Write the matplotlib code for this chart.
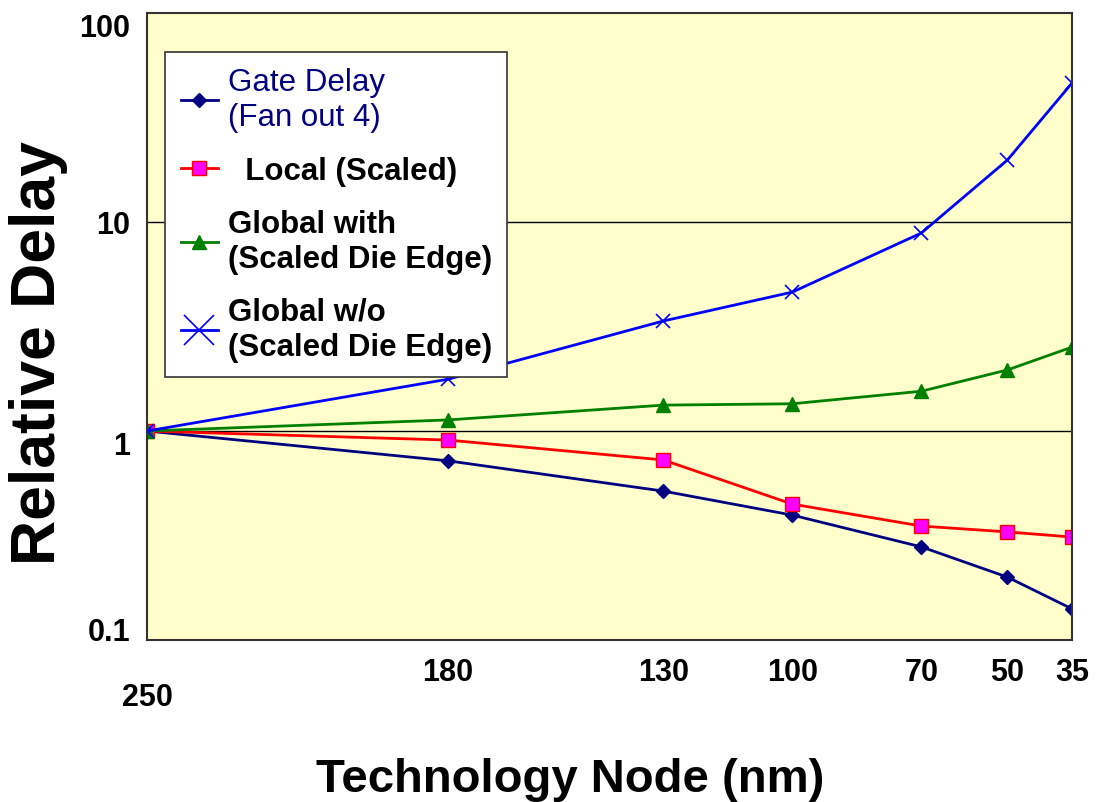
import numpy as np
import matplotlib
matplotlib.use("Agg")
import matplotlib.pyplot as plt

plt.rcParams['font.family'] = ['Liberation Sans', 'DejaVu Sans']

# datos
nodes = ["250", "180", "130", "100", "70", "50", "35"]
x_pos = [0, 7, 12, 15, 18, 20, 21.5]   # posicion en el eje (escala del grafico original)
gate = [1.0, 0.72, 0.516, 0.396, 0.279, 0.20, 0.141]
local = [1.0, 0.905, 0.727, 0.447, 0.351, 0.329, 0.311]
glob_with = [1.0, 1.13, 1.33, 1.35, 1.55, 1.96, 2.52]
glob_wo = [1.0, 1.77, 3.36, 4.62, 8.86, 19.8, 46.2]

fig = plt.figure(figsize=(10.98, 8.03), dpi=100)
ax = fig.add_axes([0.1339, 0.2017, 0.8424, 0.7809])
ax.set_facecolor('#FFFFCC')

l1, = ax.plot(x_pos, gate, color='#000080', lw=2, marker='D', ms=7.5, label="Gate Delay\n(Fan out 4)")
l2, = ax.plot(x_pos, local, color='#FF0000', lw=2, marker='s', ms=10, mfc='#FF00FF', mec='#FF0000',
              label="  Local (Scaled)")
l3, = ax.plot(x_pos, glob_with, color='#008000', lw=2, marker='^', ms=10, label="Global with\n(Scaled Die Edge)")
l4, = ax.plot(x_pos, glob_wo, color='#0000FF', lw=2, marker='x', ms=10, mew=1.2,
              label="Global w/o\n(Scaled Die Edge)")

ax.set_yscale('log')
ax.set_ylim(0.1, 100)
ax.set_xlim(0, 21.5)
ax.set_yticks([0.1, 1, 10, 100])
ax.set_yticklabels(["0.1", "1", "10", "100"], fontsize=22, fontweight='bold')
ax.minorticks_off()
ax.set_xticks(x_pos)
ax.set_xticklabels(nodes, fontsize=22, fontweight='bold')
ax.tick_params(length=0, pad=12)
ax.xaxis.get_major_ticks()[0].set_pad(30)
ylab = ax.get_yticklabels()
ylab[0].set_va('baseline')
ylab[1].set_va('top')
ylab[3].set_va('top')
for a in [10, 1]:
    ax.axhline(a, color='black', lw=1, zorder=1)
for s in ax.spines.values():
    s.set_color('#333333')
    s.set_linewidth(1.5)

ax.set_ylabel("Relative Delay", fontsize=45, fontweight='bold')
ax.yaxis.set_label_coords(-0.085, 0.46)
ax.set_xlabel("Technology Node (nm)", fontsize=34, fontweight='bold')
ax.xaxis.set_label_coords(0.457, -0.187)

leg = ax.legend(handles=[l1, l2, l3, l4], loc='upper left', bbox_to_anchor=(0.0195, 0.938),
                borderaxespad=0, fontsize=22.5, fancybox=False, framealpha=1,
                edgecolor='#333333', handlelength=1.2, handletextpad=0.3,
                labelspacing=0.75, borderpad=0.5)
leg.get_frame().set_linewidth(1.2)
for i, t in enumerate(leg.get_texts()):
    if i == 0:
        t.set_color('#000080')
    else:
        t.set_fontweight('bold')
leg.legend_handles[3].set_markersize(22)

plt.savefig("out.png", dpi=100)
